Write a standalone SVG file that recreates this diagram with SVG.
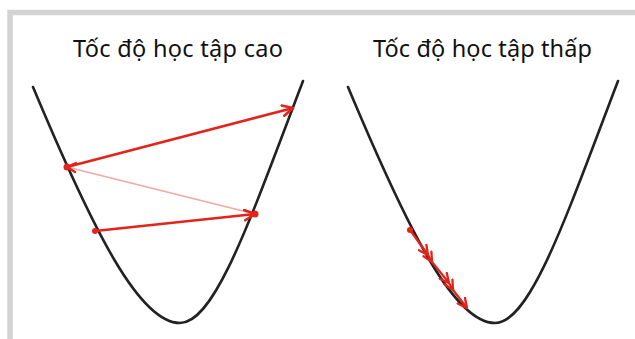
<svg xmlns="http://www.w3.org/2000/svg" width="635" height="339" viewBox="0 0 635 339">
<style>
.curve{fill:none;stroke:#222;stroke-width:2.6;stroke-linecap:round}
.step{fill:none;stroke:#e3241b;stroke-width:2.6;stroke-linecap:round}
.small{fill:none;stroke:#e3241b;stroke-width:2.3;stroke-linecap:round}
.faint{fill:none;stroke:#efaaa2;stroke-width:1.3}
.dot{fill:#e3241b}
.title{font-family:"Noto Sans","Open Sans",sans-serif;font-size:23.5px;fill:#111}
</style>
<defs>
<marker id="head" viewBox="0 0 10 10" refX="9" refY="5" markerWidth="5" markerHeight="5" orient="auto" markerUnits="strokeWidth">
<path d="M1,1 L9,5 L1,9" fill="none" stroke="#e3241b" stroke-width="2" stroke-linecap="round" stroke-linejoin="round"/>
</marker>
<marker id="headS" viewBox="0 0 10 10" refX="9" refY="5" markerWidth="5" markerHeight="5" orient="auto" markerUnits="strokeWidth">
<path d="M1,1 L9,5 L1,9" fill="none" stroke="#e3241b" stroke-width="2" stroke-linecap="round" stroke-linejoin="round"/>
</marker>
<path id="bowl" d="M33,87 C95,235 140,323 180,323 C215,323 250,220 303,81"/>
</defs>
<rect x="10" y="12.5" width="640" height="340" fill="#fff" stroke="#d3d3d3" stroke-width="5.5"/>
<g id="panel-high">
<text class="title" x="73" y="57" textLength="210">Tốc độ học tập cao</text>
<use href="#bowl" class="curve"/>
</g>
<g id="panel-low">
<text class="title" x="373" y="57" textLength="219">Tốc độ học tập thấp</text>
<use href="#bowl" class="curve" transform="translate(315,0)"/>
</g>
<g id="connectors">
<line class="faint" x1="255" y1="214" x2="67" y2="167"/>
<line class="step" x1="95" y1="231" x2="255" y2="214" marker-end="url(#head)"/>
<line class="step" x1="67" y1="167" x2="293" y2="108" marker-end="url(#head)"/>
<path d="M76,163 L67,167 L75,172" fill="none" stroke="#e3241b" stroke-width="2.4" stroke-linecap="round" stroke-linejoin="round"/>
<circle class="dot" cx="95" cy="231" r="3"/>
<circle class="dot" cx="255" cy="214" r="3.5"/>
<circle class="dot" cx="67" cy="167" r="3.5"/>
<line class="small" x1="410" y1="230" x2="428" y2="255" marker-end="url(#headS)"/>
<line class="small" x1="428" y1="255" x2="432" y2="262" marker-end="url(#headS)"/>
<line class="small" x1="432" y1="262" x2="449" y2="283" marker-end="url(#headS)"/>
<line class="small" x1="449" y1="283" x2="453" y2="290" marker-end="url(#headS)"/>
<line class="small" x1="453" y1="290" x2="467" y2="308" marker-end="url(#headS)"/>
<circle class="dot" cx="410" cy="230" r="3"/>
</g>
</svg>
